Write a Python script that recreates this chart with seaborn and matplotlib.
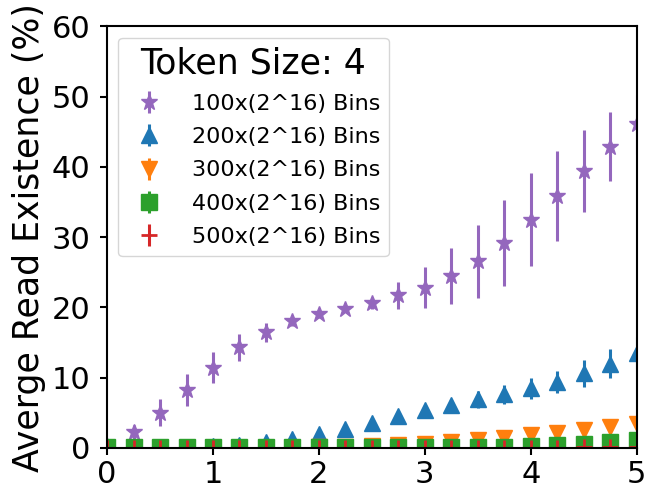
import matplotlib as mpl
mpl.use('Agg')

import matplotlib.pyplot as plt
import numpy as np
import seaborn as sns

# x positions of the samples
xs = [0, 0.25, 0.5, 0.75, 1, 1.25, 1.5, 1.75, 2, 2.25, 2.5,
      2.75, 3, 3.25, 3.5, 3.75, 4, 4.25, 4.5, 4.75, 5]

labels = ['100x(2^16) Bins', '200x(2^16) Bins', '300x(2^16) Bins',
          '400x(2^16) Bins', '500x(2^16) Bins']

bins100 = [0.2, 2.2, 5.0, 8.2, 11.4, 14.3, 16.45, 18.0, 19.0, 19.8, 20.6,
           21.7, 22.8, 24.5, 26.6, 29.2, 32.5, 35.8, 39.4, 42.9, 46.1]
bins100_err = [0.2, 1.1, 1.9, 2.3, 2.2, 1.9, 1.35, 0.6, 0.5, 0.5, 0.8,
               1.9, 2.9, 4.0, 5.2, 6.1, 6.6, 6.4, 5.8, 4.9, 4.2]

bins200 = [0.0, 0.02, 0.05, 0.1, 0.24, 0.43, 0.81, 1.3, 1.95, 2.7, 3.6,
           4.5, 5.35, 6.1, 6.9, 7.6, 8.5, 9.4, 10.6, 12.0, 13.5]
bins200_err = [0.0, 0.02, 0.03, 0.05, 0.1, 0.15, 0.2, 0.3, 0.35, 0.4, 0.45,
               0.5, 0.6, 0.8, 1.25, 1.4, 1.5, 1.6, 1.9, 2.05, 2.3]

bins300 = [0.0, 0.0, 0.0, 0.01, 0.02, 0.03, 0.04, 0.05, 0.06, 0.1, 0.2,
           0.34, 0.53, 0.81, 1.1, 1.4, 1.77, 2.1, 2.5, 2.9, 3.4]
bins300_err = [0.0, 0.0, 0.0, 0.01, 0.01, 0.02, 0.02, 0.03, 0.04, 0.05, 0.08,
               0.1, 0.15, 0.2, 0.25, 0.3, 0.35, 0.4, 0.45, 0.5, 0.6]

bins400 = [0.1, 0.1, 0.1, 0.1, 0.1, 0.1, 0.1, 0.1, 0.1, 0.1, 0.1,
           0.1, 0.1, 0.12, 0.15, 0.19, 0.33, 0.47, 0.6, 0.86, 1.1]
bins400_err = [0.0, 0.0, 0.0, 0.0, 0.0, 0.0, 0.0, 0.0, 0.0, 0.0, 0.0,
               0.01, 0.02, 0.03, 0.04, 0.05, 0.07, 0.1, 0.12, 0.15, 0.2]

bins500 = [0.0, 0.0, 0.0, 0.0, 0.0, 0.0, 0.0, 0.0, 0.0, 0.0, 0.0,
           0.0, 0.0, 0.0, 0.0, 0.0, 0.02, 0.05, 0.08, 0.1, 0.15]
bins500_err = [0.0, 0.0, 0.0, 0.0, 0.0, 0.0, 0.0, 0.0, 0.0, 0.0, 0.0,
               0.0, 0.0, 0.0, 0.0, 0.0, 0.01, 0.02, 0.03, 0.04, 0.05]

series = [bins100, bins200, bins300, bins400, bins500]
errors = [bins100_err, bins200_err, bins300_err, bins400_err, bins500_err]
markers = ['*', '^', 'v', 's', '+']

pal = sns.color_palette('tab10')
colors = [pal[4], pal[0], pal[1], pal[2], pal[3]]

plt.rcParams['font.family'] = ['DejaVu Sans']

fig, ax = plt.subplots(figsize=(6.49, 4.9), dpi=100)
fig.subplots_adjust(left=0.165, right=0.981, bottom=0.086, top=0.946)

for ys, es, m, c, lab in zip(series, errors, markers, colors, labels):
    ax.errorbar(xs, ys, yerr=es, fmt=m, color=c, markersize=12,
                markeredgewidth=2 if m == '+' else 1, elinewidth=2.2,
                label=lab)

ax.set_xlim(0, 5)
ax.set_ylim(0, 60)
ax.set_xticks([0, 1, 2, 3, 4, 5])
ax.set_yticks([0, 10, 20, 30, 40, 50, 60])
ax.tick_params(labelsize=22, width=1.5, length=5)
ax.tick_params(axis='x', pad=4)
ax.tick_params(axis='y', pad=7)
for sp in ax.spines.values():
    sp.set_linewidth(1.5)
ax.set_ylabel('Averge Read Existence (%)', fontsize=25, labelpad=4)

leg = ax.legend(title='Token Size: 4', loc='upper left', fontsize=16,
                title_fontsize=25, handletextpad=0.9, labelspacing=0.6)

fig.savefig('out.png', dpi=100)
